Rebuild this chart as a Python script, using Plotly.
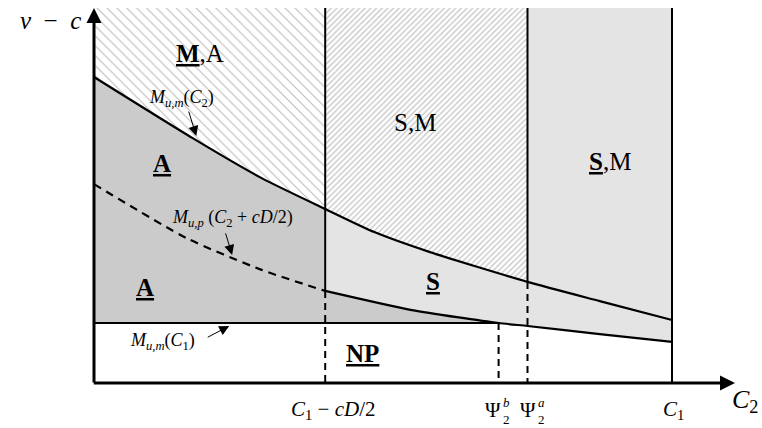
import plotly.graph_objects as go

# ---- data (model units) ----
x_upper = [0.0, 1.7, 2.9, 4.0, 4.85, 5.8, 7.5, 8.75, 10.0]
y_upper = [10.2, 8.17, 6.83, 5.8, 5.03, 4.37, 3.37, 2.73, 2.1]
x_lower = [0.0, 1.6, 2.9, 4.0, 5.5, 7.0, 7.5, 8.75, 10.0]
y_lower = [6.63, 4.83, 3.77, 3.07, 2.43, 2.0, 1.9, 1.63, 1.37]
M_um_C1 = 2.0
X_C1_cD2 = 4.0
X_PSI_B = 7.0
X_PSI_A = 7.5
X_C1 = 10.0
Y_TOP = 12.5
tick_vals = [X_C1_cD2, X_PSI_B, X_PSI_A, X_C1]
tick_text = ["<i>C</i><sub>1</sub> − <i>cD</i>/2", "Ψ", "Ψ", "<i>C</i><sub>1</sub>"]
tick_stack = ["", "<i>b</i><br>2", "<i>a</i><br>2", ""]
tick_shift = [8, -6, 0, 1]

FONT = "Liberation Serif"
DARK = "#cbcbcb"
LIGHT = "#e4e4e4"


def seg(xs, ys, a, b):
    px = [x for x in xs if a - 1e-9 <= x <= b + 1e-9]
    py = [y for x, y in zip(xs, ys) if a - 1e-9 <= x <= b + 1e-9]
    return px, py


def val(xs, ys, x0):
    return ys[xs.index(x0)]


fig = go.Figure()

# ---- filled regions ----
ux, uy = seg(x_upper, y_upper, 0, X_C1_cD2)
fig.add_trace(go.Scatter(x=ux + [X_C1_cD2, 0], y=uy + [Y_TOP, Y_TOP], fill="toself",
                         mode="none", fillcolor="white",
                         fillpattern=dict(shape="\\", size=7, solidity=0.16,
                                          fgcolor="#7a7a7a", bgcolor="white")))
fig.add_trace(go.Scatter(x=ux + [X_C1_cD2, 0], y=uy + [M_um_C1, M_um_C1], fill="toself",
                         mode="none", fillcolor=DARK))

ux, uy = seg(x_upper, y_upper, X_C1_cD2, X_PSI_A)
fig.add_trace(go.Scatter(x=ux + [X_PSI_A, X_C1_cD2], y=uy + [Y_TOP, Y_TOP], fill="toself",
                         mode="none", fillcolor="white",
                         fillpattern=dict(shape="/", size=4, solidity=0.33,
                                          fgcolor="#8c8c8c", bgcolor="white")))
lx, ly = seg(x_lower, y_lower, X_C1_cD2, X_PSI_A)
fig.add_trace(go.Scatter(x=ux + lx[::-1], y=uy + ly[::-1], fill="toself",
                         mode="none", fillcolor=LIGHT))
lx, ly = seg(x_lower, y_lower, X_C1_cD2, X_PSI_B)
fig.add_trace(go.Scatter(x=lx + [X_C1_cD2], y=ly + [M_um_C1], fill="toself",
                         mode="none", fillcolor=DARK))
lx, ly = seg(x_lower, y_lower, X_PSI_A, X_C1)
fig.add_trace(go.Scatter(x=[X_PSI_A, X_C1] + lx[::-1], y=[Y_TOP, Y_TOP] + ly[::-1],
                         fill="toself", mode="none", fillcolor=LIGHT))

# ---- lines ----
BL = dict(color="black", width=2)
DL = dict(color="black", width=2, dash="7px,5px")
fig.add_trace(go.Scatter(x=x_upper, y=y_upper, mode="lines",
                         line=dict(color="black", width=2.2, shape="spline", smoothing=0.6)))
lx, ly = seg(x_lower, y_lower, 0, X_C1_cD2)
fig.add_trace(go.Scatter(x=lx, y=ly, mode="lines",
                         line=dict(color="black", width=2.2, dash="8px,6px",
                                   shape="spline", smoothing=0.6)))
lx, ly = seg(x_lower, y_lower, X_C1_cD2, X_C1)
fig.add_trace(go.Scatter(x=lx, y=ly, mode="lines",
                         line=dict(color="black", width=2.2, shape="spline", smoothing=0.6)))
fig.add_trace(go.Scatter(x=[0, X_PSI_B], y=[M_um_C1, M_um_C1], mode="lines", line=BL))

yl4 = val(x_lower, y_lower, X_C1_cD2)
fig.add_trace(go.Scatter(x=[X_C1_cD2, X_C1_cD2], y=[Y_TOP, yl4], mode="lines", line=BL))
fig.add_trace(go.Scatter(x=[X_C1_cD2, X_C1_cD2], y=[yl4, 0], mode="lines", line=DL))
yua = val(x_upper, y_upper, X_PSI_A)
fig.add_trace(go.Scatter(x=[X_PSI_A, X_PSI_A], y=[Y_TOP, yua], mode="lines", line=BL))
fig.add_trace(go.Scatter(x=[X_PSI_A, X_PSI_A], y=[yua, 0], mode="lines", line=DL))
fig.add_trace(go.Scatter(x=[X_PSI_B, X_PSI_B], y=[M_um_C1, 0], mode="lines", line=DL))
fig.add_trace(go.Scatter(x=[X_C1, X_C1], y=[Y_TOP, 0], mode="lines", line=BL))

# ---- axes with arrows ----
ann = []
ann.append(dict(x=11.09, y=0, ax=-0.03, ay=0, xref="x", yref="y", axref="x", ayref="y",
                showarrow=True, arrowhead=2, arrowsize=1.0, arrowwidth=3, arrowcolor="black", text=""))
ann.append(dict(x=0, y=Y_TOP, ax=0, ay=-0.03, xref="x", yref="y", axref="x", ayref="y",
                showarrow=True, arrowhead=2, arrowsize=1.0, arrowwidth=3, arrowcolor="black", text=""))

# small pointer arrows
for (tx, ty, dx, dy) in [(1.77, 8.23, -8, -26), (2.39, 4.27, -7, -23), (2.34, 1.9, -23, 12)]:
    ann.append(dict(x=tx, y=ty, ax=dx, ay=dy, xref="x", yref="y", showarrow=True,
                    arrowhead=2, arrowsize=2.0, arrowwidth=1, arrowcolor="black", text=""))

def lab(x, y, t, size, xs=0, ys=0, pad=1):
    ann.append(dict(x=x, y=y, text=t, showarrow=False, xref="x", yref="y", xshift=xs, yshift=ys,
                    borderpad=pad, font=dict(family=FONT, size=size, color="black")))

# region labels
BIG = 25
SMALL = 18
lab(1.84, 11.0, "<b><u>M</u></b>,A", BIG)
lab(1.52, 9.5, "<i>M</i><sub><i>u,m</i></sub>(<i>C</i><sub>2</sub>)", SMALL)
lab(1.18, 7.33, "<b><u>A</u></b>", BIG)
lab(2.39, 5.47, "<i>M</i><sub><i>u,p</i></sub> (<i>C</i><sub>2</sub> + <i>cD</i>/2)", SMALL)
lab(0.88, 3.17, "<b><u>A</u></b>", BIG)
lab(1.18, 1.37, "<i>M</i><sub><i>u,m</i></sub>(<i>C</i><sub>1</sub>)", SMALL)
lab(5.55, 8.7, "S,M", BIG)
lab(5.86, 3.37, "<b><u>S</u></b>", BIG)
lab(8.93, 7.37, "<b><u>S</u></b>,M", BIG)
lab(4.64, 0.97, "<b><u>NP</u></b>", BIG)
# axis titles
lab(-0.76, 12.1, "<i>v</i>\u2002−\u2002<i>c</i>", 25)
lab(11.27, -0.6, "<i>C</i><sub>2</sub>", 26)
# tick labels
for v, t, st, s in zip(tick_vals, tick_text, tick_stack, tick_shift):
    lab(v, -0.9, t, 21, s, 0, 0)
    if st:
        lab(v, -0.9, st, 13, s + 14, -1, 0)

fig.update_layout(
    width=762, height=428, margin=dict(l=0, r=0, t=0, b=0, autoexpand=False),
    paper_bgcolor="white", plot_bgcolor="white", showlegend=False,
    xaxis=dict(range=[-94 / 57.8, (762 - 94) / 57.8], visible=False, fixedrange=True),
    yaxis=dict(range=[-1.5, 383 / 30], visible=False, fixedrange=True),
    annotations=ann,
)
fig.write_html("out.html", config={"displayModeBar": False},
               post_script="document.body.style.margin='0';document.body.style.padding='0';")
